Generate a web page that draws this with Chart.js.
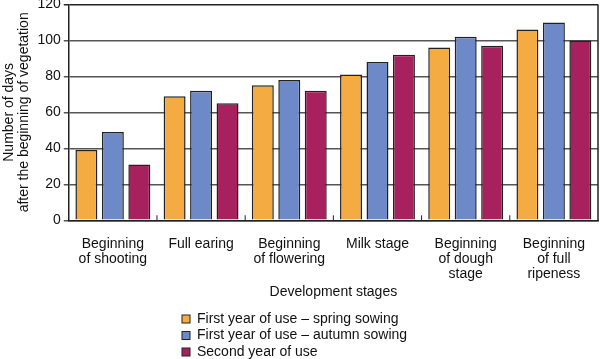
<!DOCTYPE html>
<html>
<head>
<meta charset="utf-8">
<script src="https://cdn.jsdelivr.net/npm/chart.js@4"></script>
<style>
  html, body { margin: 0; padding: 0; background: #fff; overflow: hidden; }
  #wrap { width: 600px; height: 366px; margin-top: -7px; }
</style>
</head>
<body>
<div id="wrap"><canvas id="stagesChart"></canvas></div>
<script>
const stages = [
    ["Beginning", "of shooting"],
    "Full earing",
    ["Beginning", "of flowering"],
    "Milk stage",
    ["Beginning", "of dough", "stage"],
    ["Beginning", "of full", "ripeness"],
];
const seriesNames = [
    "First year of use \u2013 spring sowing",
    "First year of use \u2013 autumn sowing",
    "Second year of use",
];
const springSowing = [39, 69, 75, 81, 96, 106];
const autumnSowing = [49, 72, 78, 88, 102, 110];
const secondYear = [31, 65, 72, 92, 97, 100];
const seriesColors = ["#F4AC42", "#6E89C8", "#A8215F"];

const FONT = "'Liberation Sans', Arial, sans-serif";

document.addEventListener("DOMContentLoaded", function () {
    // frame lines + stacked legend
    const framePlugin = {
        id: "frame",
        afterDraw(chart) {
            const ctx = chart.ctx;
            const area = chart.chartArea;
            const x = chart.scales.x;
            ctx.save();
            ctx.strokeStyle = "#222";
            ctx.lineWidth = 1.5;
            // right border
            ctx.beginPath();
            ctx.moveTo(area.right, area.top);
            ctx.lineTo(area.right, area.bottom);
            ctx.stroke();
            // small ticks between groups
            ctx.lineWidth = 1;
            for (let i = 1; i < stages.length; i++) {
                const px = (x.getPixelForTick(i - 1) + x.getPixelForTick(i)) / 2;
                ctx.beginPath();
                ctx.moveTo(px, area.bottom);
                ctx.lineTo(px, area.bottom - 5);
                ctx.stroke();
            }
            // legend, one item per row
            ctx.font = "14px " + FONT;
            ctx.textBaseline = "middle";
            ctx.textAlign = "left";
            const baseY = chart.height - 40;
            seriesNames.forEach((name, i) => {
                const y = baseY + i * 16.5;
                ctx.fillStyle = seriesColors[i];
                ctx.fillRect(182, y - 4, 8, 8);
                ctx.strokeStyle = "#222";
                ctx.strokeRect(182, y - 4, 8, 8);
                ctx.fillStyle = "#111";
                ctx.fillText(name, 197, y);
            });
            ctx.restore();
        },
    };

    const data = [springSowing, autumnSowing, secondYear];
    const ctx = document.getElementById("stagesChart").getContext("2d");
    new Chart(ctx, {
        type: "bar",
        data: {
            labels: stages,
            datasets: seriesNames.map((name, i) => ({
                label: name,
                data: data[i],
                backgroundColor: seriesColors[i],
                borderColor: "#222",
                borderWidth: 1.5,
                categoryPercentage: 0.9,
                barPercentage: 0.83,
            })),
        },
        options: {
            responsive: true,
            maintainAspectRatio: false,
            animation: false,
            layout: { padding: { top: 0, right: 2, bottom: 58, left: 0 } },
            plugins: {
                legend: { display: false },
                tooltip: { enabled: false },
            },
            scales: {
                x: {
                    grid: { display: false },
                    border: { color: "#222", width: 1.5 },
                    ticks: {
                        color: "#111",
                        font: { family: FONT, size: 14, lineHeight: 1.07 },
                        maxRotation: 0,
                        autoSkip: false,
                        padding: 8,
                    },
                    title: {
                        display: true,
                        text: "Development stages",
                        color: "#111",
                        font: { family: FONT, size: 14 },
                        padding: { top: -5, bottom: 0 },
                    },
                },
                y: {
                    min: 0,
                    max: 120,
                    ticks: {
                        stepSize: 20,
                        color: "#111",
                        font: { family: FONT, size: 14 },
                        padding: 3,
                    },
                    grid: {
                        color: (c) => (c.tick && c.tick.value === 120 ? "#222" : "#555"),
                        lineWidth: 1.5,
                        drawTicks: true,
                        tickLength: 5,
                    },
                    border: { color: "#222", width: 1.5 },
                    title: {
                        display: true,
                        text: ["Number of days", "after the beginning of vegetation"],
                        color: "#111",
                        font: { family: FONT, size: 14, lineHeight: 1.05 },
                        padding: { top: 2, bottom: 3 },
                    },
                },
            },
        },
        plugins: [framePlugin],
    });
});
</script>
</body>
</html>
